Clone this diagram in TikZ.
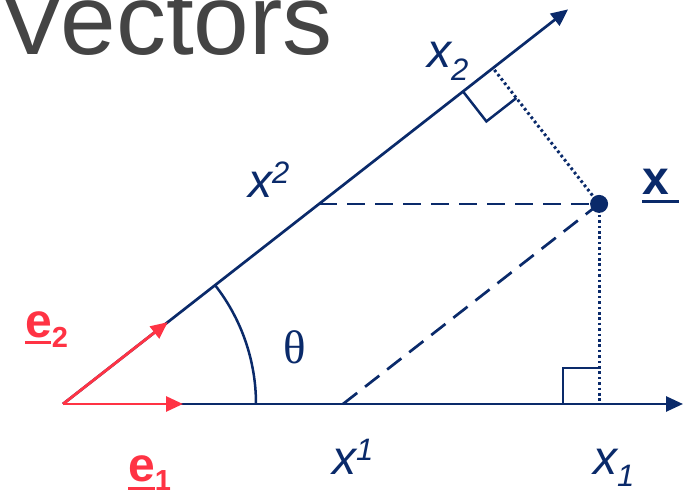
\documentclass[tikz,border=0pt]{standalone}
\usepackage{fontspec}
\newfontfamily\hv{Liberation Sans}
\newfontfamily\tm{Liberation Serif}
\usetikzlibrary{arrows.meta,calc}
\definecolor{navy}{HTML}{0A2A6A}
\definecolor{vred}{HTML}{FF3344}
\definecolor{tgray}{HTML}{444444}
\tikzset{
  axis/.style={navy,line width=2.7pt,-{Triangle[length=17pt,width=15pt]}},
  evec/.style={vred,line width=2.8pt,-{Triangle[length=17pt,width=15pt]}},
  dashline/.style={navy,line width=2.7pt,dash pattern=on 18pt off 10pt},
  dotline/.style={navy,line width=3pt,dash pattern=on 2.6pt off 2.8pt},
  rightang/.style={navy,line width=2.5pt},
  lab/.style={anchor=base west,inner sep=0pt,text=navy},
  elab/.style={anchor=base west,inner sep=0pt,text=vred},
}
\begin{document}
\begin{tikzpicture}[x=1pt,y=1pt]
\useasboundingbox (0,0) rectangle (693,497);
% title
\node[anchor=base west,inner sep=0pt,text=tgray] (title) at (-1,442) {\hv\fontsize{100}{100}\selectfont Vectors};
% geometry
\coordinate (O) at (63,93);
\coordinate (A1) at (683,93);
\coordinate (A2) at ($(O)+(38:641pt)$);
\coordinate (X1) at (343,93);
\coordinate (X2) at ($(O)+(38:325pt)$);
\coordinate (P) at ($(X1)+(38:325pt)$);
\coordinate (F1) at (P |- O);
\coordinate (F2) at ($(O)!(P)!(A2)$);
% dashed components
\draw[dashline] (X2) -- (P);
\draw[dashline] (X1) -- (P);
% dotted projections
\draw[dotline] (P) -- (F1);
\draw[dotline] (P) -- (F2);
% right angle marks
\draw[rightang] ($(F1)+(-36,0)$) -- ++(0,36) -- ++(36,0);
\draw[rightang] ($(F2)!38pt!(O)$) -- ++(-52:38pt) -- ($(F2)+(-52:38pt)$);
% angle arc
\draw[navy,line width=2.5pt] ($(O)+(193pt,0)$) arc[start angle=0,end angle=38,radius=193pt];
% axes
\draw[axis] (O) -- (A1);
\draw[axis] (O) -- (A2);
% basis vectors
\draw[evec] (O) -- ($(O)+(120,0)$);
\draw[evec] (O) -- ($(O)+(38:133pt)$);
% point
\fill[navy] (P) circle (9pt);
% labels
\node[lab] (lx2) at (427,429) {\hv\itshape\fontsize{48}{48}\selectfont x\raisebox{-13pt}{\fontsize{31}{31}\selectfont 2}};
\node[lab] (lxsup2) at (248,299) {\hv\itshape\fontsize{48}{48}\selectfont x\raisebox{14pt}{\fontsize{31}{31}\selectfont 2}};
\node[lab] (lxsup1) at (332,22) {\hv\itshape\fontsize{48}{48}\selectfont x\raisebox{14pt}{\fontsize{31}{31}\selectfont 1}};
\node[lab] (lx1) at (593,22) {\hv\itshape\fontsize{48}{48}\selectfont x\raisebox{-12pt}{\fontsize{31}{31}\selectfont 1}};
\node[lab] (theta) at (283,133) {\tm\fontsize{47}{47}\selectfont θ};
\node[lab] (xvec) at (642,302) {\hv\bfseries\fontsize{48}{48}\selectfont x};
\draw[navy,line width=3pt] ($(xvec.base west)+(0,-7)$) -- ++(37,0);
\node[elab] (le2) at (25,159) {\hv\bfseries\fontsize{48}{48}\selectfont e\raisebox{-10pt}{\fontsize{29}{29}\selectfont 2}};
\draw[vred,line width=3pt] ($(le2.base west)+(0,-5)$) -- ++(26,0);
\node[elab] (le1) at (128,15) {\hv\bfseries\fontsize{48}{48}\selectfont e\raisebox{-9pt}{\fontsize{29}{29}\selectfont 1}};
\draw[vred,line width=3pt] ($(le1.base west)+(0,-7)$) -- ++(27,0);
\end{tikzpicture}
\end{document}
